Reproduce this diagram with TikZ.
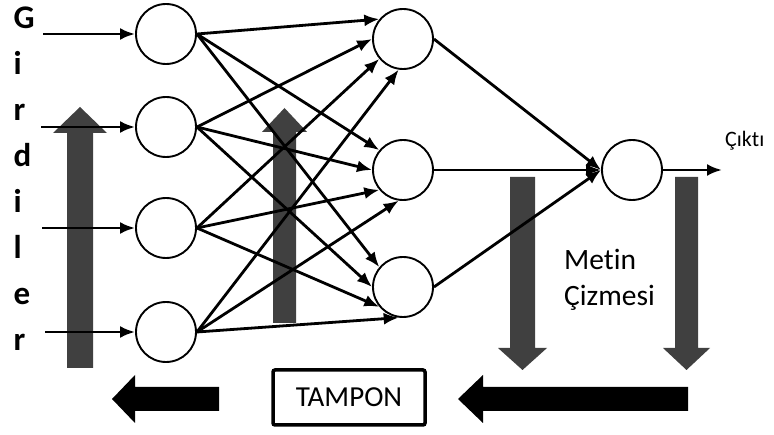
\documentclass[tikz,border=0pt]{standalone}
\usepackage{fontspec}
\setmainfont[Ligatures=NoCommon]{Carlito}
\usetikzlibrary{arrows.meta}
\definecolor{nngray}{RGB}{64,64,64}

\begin{document}
\begin{tikzpicture}[
  x=1pt, y=-1pt,
  neuron/.style={circle, draw, line width=1.9pt, minimum size=60pt, inner sep=0pt, fill=white},
  link/.style={-{Latex[length=15pt,width=12pt]}, line width=2.8pt},
  band/.style={fill=nngray},
  flow/.style={fill=black},
  tag/.style={inner sep=0pt}
]
\useasboundingbox (0,0) rectangle (774,435);

% Wide grey arrows in the background
\fill[band] (67,368) -- (67,133) -- (53,133) -- (80,107) -- (107,133) -- (93,133) -- (93,368) -- cycle;
\fill[band] (273,323) -- (273,132) -- (262,132) -- (284.5,108) -- (307,132) -- (296,132) -- (296,323) -- cycle;
\fill[band] (510,177) -- (510,348) -- (498,348) -- (522.5,370) -- (547,348) -- (535,348) -- (535,177) -- cycle;
\fill[band] (675,177) -- (675,348) -- (663,348) -- (686.5,370) -- (710,348) -- (698,348) -- (698,177) -- cycle;

% Black arrows along the bottom
\fill[flow] (219,387) -- (135,387) -- (135,375) -- (112,399) -- (135,423) -- (135,411) -- (219,411) -- cycle;
\fill[flow] (688,387) -- (483,387) -- (483,375) -- (458,399) -- (483,423) -- (483,411) -- (688,411) -- cycle;

% Input, hidden and output neurons
\node[neuron] (i1) at (166,34) {};
\node[neuron] (i2) at (166,127) {};
\node[neuron] (i3) at (166,228) {};
\node[neuron] (i4) at (166,332) {};
\node[neuron] (h1) at (403,39) {};
\node[neuron] (h2) at (403,170) {};
\node[neuron] (h3) at (403,287) {};
\node[neuron] (o) at (632,170) {};

\coordinate (x1) at (43,34);
\coordinate (x2) at (41,127);
\coordinate (x3) at (42,228);
\coordinate (x4) at (45,332);
\coordinate (y) at (722,170);

% Labels
\node[tag, anchor=north west, align=left, font=\fontsize{33}{46}\selectfont\bfseries] (girdi) at (13.5,6.5) {G\\i\\r\\d\\i\\l\\e\\r};
\node[tag, anchor=base west, font=\fontsize{22}{26}\selectfont] (cikti) at (725,147) {Çıktı};
\node[tag, anchor=north west, align=left, font=\fontsize{29.5}{36}\selectfont] (metin) at (564,249) {Metin\\Çizmesi};
\node[draw, line width=3.5pt, rounded corners=2pt, minimum width=152pt, minimum height=55pt, font=\fontsize{29}{32}\selectfont] (buffer) at (349,397.5) {TAMPON};

% Inputs
\draw[link] (x1) -- (i1);
\draw[link] (x2) -- (i2);
\draw[link] (x3) -- (i3);
\draw[link] (x4) -- (i4);

% Input layer to hidden layer
\draw[link] (i1.east) -- (h1.140);
\draw[link] (i1.east) -- (h2.140);
\draw[link] (i1.east) -- (h3.140);
\draw[link] (i2.east) -- (h1.180);
\draw[link] (i2.east) -- (h2.180);
\draw[link] (i2.east) -- (h3.180);
\draw[link] (i3.east) -- (h1.220);
\draw[link] (i3.east) -- (h2.220);
\draw[link] (i3.east) -- (h3.220);
\draw[link] (i4.east) -- (h1.262);
\draw[link] (i4.east) -- (h2.262);
\draw[link] (i4.east) -- (h3.262);

% Hidden layer to output
\draw[link] (h1.east) -- (o.west);
\draw[link] (h2.east) -- (o.west);
\draw[link] (h3.east) -- (o.west);
\draw[link] (o) -- (y);

\end{tikzpicture}
\end{document}
